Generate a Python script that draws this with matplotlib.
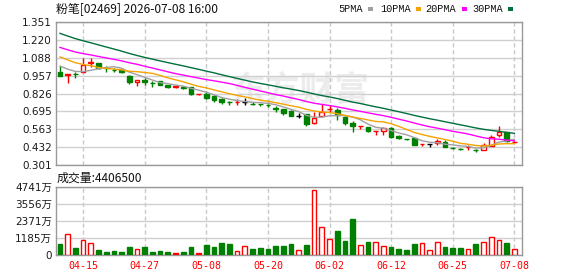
import numpy as np
import pandas as pd
import matplotlib.pyplot as plt
from matplotlib.patches import Rectangle

# 交易日 (60 天)
dates = ['04-10', '04-13', '04-14', '04-15', '04-16', '04-17', '04-20', '04-21', '04-22', '04-23',
         '04-24', '04-27', '04-28', '04-29', '04-30', '05-04', '05-05', '05-06', '05-07', '05-08',
         '05-11', '05-12', '05-13', '05-14', '05-15', '05-18', '05-19', '05-20', '05-21', '05-22',
         '05-26', '05-27', '05-28', '05-29', '06-01', '06-02', '06-03', '06-04', '06-05', '06-08',
         '06-09', '06-10', '06-11', '06-12', '06-15', '06-16', '06-17', '06-18', '06-22', '06-23',
         '06-24', '06-25', '06-26', '06-29', '06-30', '07-02', '07-03', '07-06', '07-07', '07-08']
date_labels = ['04-15', '04-27', '05-08', '05-20', '06-02', '06-12', '06-25', '07-08']

open_ = [.986, .965, .968, .986, 1.053, 1.048, 1.012, 1.000, .999, .957,
         .913, .925, .903, .918, .888, .883, .872, .871, .823, .822,
         .808, .786, .765, .763, .765, .752, .749, .742, .716, .710,
         .700, .663, .673, .607, .660, .709, .705, .656, .607, .585,
         .582, .548, .551, .575, .516, .491, .497, .452, .454, .460,
         .468, .426, .419, .434, .413, .411, .443, .521, .545, .470]
high = [1.030, .967, .986, 1.090, 1.085, 1.050, 1.030, 1.011, 1.000, .960,
        .925, .938, .918, .920, .890, .885, .881, .873, .823, .847,
        .813, .790, .773, .788, .793, .760, .750, .751, .735, .712,
        .705, .680, .675, .688, .747, .741, .717, .660, .624, .589,
        .582, .551, .582, .582, .520, .495, .497, .457, .454, .492,
        .485, .430, .425, .447, .420, .460, .524, .590, .545, .477]
low = [.957, .901, .938, .986, 1.023, 1.005, .986, .982, .980, .898,
       .883, .888, .876, .885, .868, .866, .857, .818, .812, .788,
       .764, .750, .742, .744, .742, .745, .735, .730, .690, .668,
       .660, .647, .590, .605, .655, .688, .631, .595, .546, .565,
       .543, .521, .521, .501, .490, .485, .445, .440, .434, .448,
       .433, .418, .408, .410, .400, .410, .441, .510, .470, .465]
close = [.957, .967, .966, 1.035, 1.056, 1.015, 1.010, .998, .982, .908,
         .925, .908, .901, .888, .871, .873, .869, .820, .821, .795,
         .780, .764, .763, .765, .765, .751, .748, .740, .714, .685,
         .663, .663, .602, .644, .692, .712, .668, .607, .590, .589,
         .553, .551, .570, .509, .497, .489, .448, .454, .454, .477,
         .435, .424, .417, .436, .411, .448, .509, .543, .477, .472]
# 图中窗口之前的收盘价 (估计值, 用于均线)
close_before = [1.56, 1.53, 1.51, 1.50, 1.48, 1.47, 1.45, 1.44, 1.42, 1.38,
                1.32, 1.29, 1.27, 1.25, 1.24, 1.22, 1.21, 1.20, 1.19, 1.15,
                1.19, 1.17, 1.16, 1.15, 1.14, 1.08, 1.05, 1.04, 1.01]
# 成交量 (万股)
volume = [780, 1470, 475, 1040, 830, 355, 215, 285, 215, 570,
          400, 570, 215, 285, 215, 140, 215, 570, 140, 710,
          570, 850, 780, 285, 640, 430, 500, 430, 640, 640,
          780, 330, 710, 4550, 1970, 1110, 1640, 1000, 2490, 690,
          925, 900, 615, 570, 430, 355, 780, 830, 330, 900,
          570, 500, 500, 400, 780, 900, 1260, 1040, 850, 440.65]

price_ticks = [1.351, 1.220, 1.088, 0.957, 0.826, 0.695, 0.563, 0.432, 0.301]
vol_ticks = [0, 1185, 2371, 3556, 4741]
ma_periods = [5, 10, 20, 30]

RED = '#ff0000'
GREEN = '#008000'
ma_colors = ['#a0a0a0', '#f5a300', '#ff00ff', '#00703c']
W, H = 578, 276


def px(x, y):
    return x / W, 1 - y / H


fig = plt.figure(figsize=(W / 100, H / 100), dpi=100)
ax = fig.add_axes([56 / W, 1 - 165 / H, 466 / W, 143 / H])
axv = fig.add_axes([56 / W, 1 - 255 / H, 466 / W, 68 / H])

x = np.arange(len(close))
prev = [open_[0]] + close[:-1]

for i in x:
    o, h, l, c, p = open_[i], high[i], low[i], close[i], prev[i]
    if c > o:
        col, hollow, doji = RED, True, False
    elif c < o:
        col, hollow, doji = (RED if c > p else GREEN), False, False
    else:
        col = RED if c > p else (GREEN if c < p else 'black')
        hollow, doji = col != GREEN, True
    ax.vlines(i, l, h, color=col, lw=1, zorder=2)
    if doji:
        ax.hlines(c, i - 0.32, i + 0.32, color=col, lw=1, zorder=3)
    else:
        ax.bar(i, abs(c - o), bottom=min(o, c), width=0.62,
               facecolor='white' if hollow else col, edgecolor=col, lw=1, zorder=3)
    vcol = RED if col == 'black' else col
    axv.bar(i, volume[i], width=0.62, facecolor='white' if hollow else vcol,
            edgecolor=vcol, lw=1, zorder=3)

all_close = pd.Series(close_before + close)
for n, mc in zip(ma_periods, ma_colors):
    ma = all_close.rolling(n).mean().iloc[len(close_before):].values
    ax.plot(x, ma, color=mc, lw=1, zorder=4)

tick_pos = [dates.index(d) for d in date_labels]
for a in (ax, axv):
    a.set_xlim(-0.52, 60)
    a.set_xticks(tick_pos)
    a.tick_params(length=0)
    a.grid(axis='x', color='#c8c8c8', lw=1, linestyle=(0, (3, 2)), zorder=0)
    a.grid(axis='y', color='#d0d0d0', lw=1, zorder=0)
    for s in a.spines.values():
        s.set_color('#999999')
        s.set_linewidth(1)

ax.set_ylim(0.301, 1.351)
ax.set_yticks(price_ticks)
ax.set_yticklabels(['%.3f' % t for t in price_ticks], fontsize=7.5, color='#1a1a1a',
                   family='DejaVu Sans')
ax.tick_params(axis='y', pad=3)
ax.set_xticklabels([])

axv.set_ylim(0, 4741)
axv.set_yticks(vol_ticks)
axv.set_yticklabels(['0'] + ['%d万' % t for t in vol_ticks[1:]], fontsize=7.5,
                    color='#1a1a1a', family=['DejaVu Sans', 'Noto Sans CJK SC'])
axv.tick_params(axis='y', pad=3)
axv.set_xticklabels(date_labels, fontsize=7.2, color=RED, family='DejaVu Sans Mono')
axv.tick_params(axis='x', pad=4)

# 水印
ax.text((300 - 56) / 466, (165 - 90) / 143, '东方财富', transform=ax.transAxes,
        fontsize=25, fontweight='bold', color='#ececec', ha='center', va='center',
        family='Noto Sans CJK SC', zorder=0)

fig.text(*px(56, 9), '粉笔[02469] 2026-07-08 16:00', fontsize=8.6, va='center',
         family=['Noto Sans CJK SC', 'DejaVu Sans'], color='#111111')
fig.text(*px(57, 178), '成交量:%d' % round(volume[-1] * 10000), fontsize=8.6, va='center',
         family=['Noto Sans CJK SC', 'DejaVu Sans'], color='#111111')

legend_text_x = [338, 380, 425, 472]
legend_box_x = [368, 416, 462, 508]
for n, mc, tx, bx in zip(ma_periods, ma_colors, legend_text_x, legend_box_x):
    fig.text(*px(tx, 9), '%dPMA' % n, fontsize=7.4, va='center',
             family='Liberation Mono', color='#111111')
    fig.patches.append(Rectangle(px(bx, 10.5), 5 / W, 4 / H, transform=fig.transFigure,
                                 facecolor=mc, edgecolor='none'))

fig.savefig('out.png', dpi=100, facecolor='white')
